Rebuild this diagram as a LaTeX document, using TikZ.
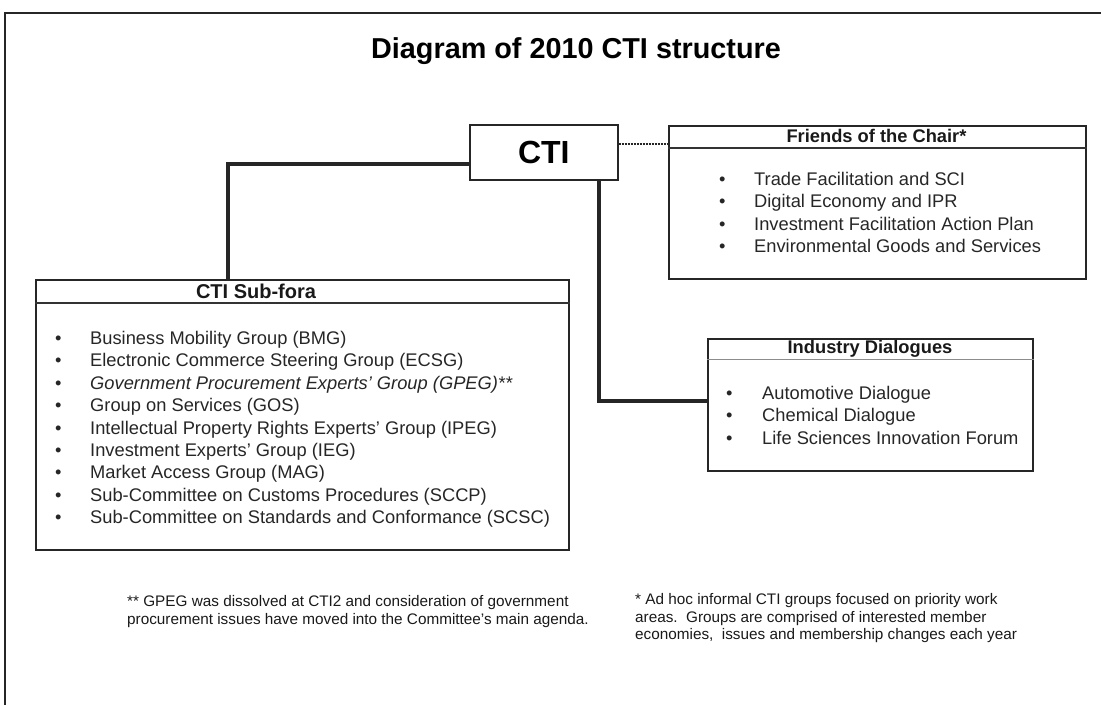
\documentclass[tikz,border=0pt]{standalone}
\usepackage{fontspec}
\setmainfont{Liberation Sans}
\usetikzlibrary{positioning}
\tikzset{
    box/.style={draw=black!85, line width=1.6pt, inner sep=0pt, anchor=north west}, % framed boxes
    head/.style={font=\fontsize{18.3}{22}\selectfont\bfseries, text=black!90}, % box headings
    item/.style={font=\fontsize{18.3}{22}\selectfont, anchor=base west, inner sep=0pt, text=black!85}, % list entries
    conn/.style={line width=3.5pt, black!85}, % thick links
    note/.style={font=\fontsize{15.3}{17.6}\selectfont, align=left, anchor=north west, inner sep=0pt, text=black!90} % footnotes
}

\begin{document}
\begin{tikzpicture}[x=1pt, y=-1pt]
    \useasboundingbox (0,0) rectangle (1101,705);
    \draw[line width=1.5pt, black!85] (1101,13) -- (5,13) -- (5,705);

    \node[font=\fontsize{28.8}{32}\selectfont\bfseries] (title) at (576,51) {Diagram of 2010 CTI structure};

    \node[box, minimum width=148pt, minimum height=55pt, font=\fontsize{32}{36}\selectfont\bfseries] (cti) at (469,124) {CTI};

    % CTI Sub-fora
    \node[box, minimum width=533pt, minimum height=270pt] (sub) at (35,279) {};
    \draw[black!80, line width=1.2pt] ([yshift=-24pt]sub.north west) -- ([yshift=-24pt]sub.north east);
    \node[head, font=\fontsize{20}{24}\selectfont\bfseries] (subhead) at (256,291) {CTI Sub-fora};
    \foreach \txt [count=\i] in {Business Mobility Group (BMG), Electronic Commerce Steering Group (ECSG),
        {\itshape Government Procurement Experts' Group (GPEG)**}, Group on Services (GOS),
        Intellectual Property Rights Experts' Group (IPEG), Investment Experts' Group (IEG),
        Market Access Group (MAG), Sub-Committee on Customs Procedures (SCCP),
        Sub-Committee on Standards and Conformance (SCSC)}
        {\node[item] (sub\i) at (55,{344.5+22.4*(\i-1)}) {\makebox[35pt][l]{\textbullet}\txt};}

    % Friends of the Chair
    \node[box, minimum width=417pt, minimum height=153pt] (fr) at (668,125) {};
    \draw[black!80, line width=1.2pt] ([yshift=-23pt]fr.north west) -- ([yshift=-23pt]fr.north east);
    \node[head] (frhead) at (876.5,136) {Friends of the Chair*};
    \foreach \txt [count=\i] in {Trade Facilitation and SCI, Digital Economy and IPR,
        Investment Facilitation Action Plan, Environmental Goods and Services}
        {\node[item] (fr\i) at (719,{185.5+22.4*(\i-1)}) {\makebox[35pt][l]{\textbullet}\txt};}

    % Industry Dialogues
    \node[box, minimum width=325pt, minimum height=132pt] (ind) at (707,338) {};
    \draw[black!45, line width=0.8pt] ([yshift=-21pt]ind.north west) -- ([yshift=-21pt]ind.north east);
    \node[head] (indhead) at (870,349) {Industry Dialogues};
    \foreach \txt [count=\i] in {Automotive Dialogue, Chemical Dialogue, Life Sciences Innovation Forum}
        {\node[item] (ind\i) at (726,{399.5+22.4*(\i-1)}) {\makebox[36pt][l]{\textbullet}\txt};}

    % links
    \draw[conn] ([yshift=-11.5pt]cti.west) -| ([xshift=-74.5pt]sub.north);
    \draw[conn] ([xshift=55pt]cti.south) |- ([yshift=4pt]ind.west);
    \coordinate (dot) at ([yshift=8.5pt]cti.east);
    \draw[black!85, line width=2pt, densely dotted] (dot) -- (dot -| fr.west);

    \node[note] (note2) at (127,595.5) {** GPEG was dissolved at CTI2 and consideration of government\\procurement issues have moved into the Committee's main agenda.};
    \node[note] (note1) at (635,593.5) {* Ad hoc informal CTI groups focused on priority work\\areas.\ \ Groups are comprised of interested member\\economies,\ \ issues and membership changes each year};
\end{tikzpicture}
\end{document}
